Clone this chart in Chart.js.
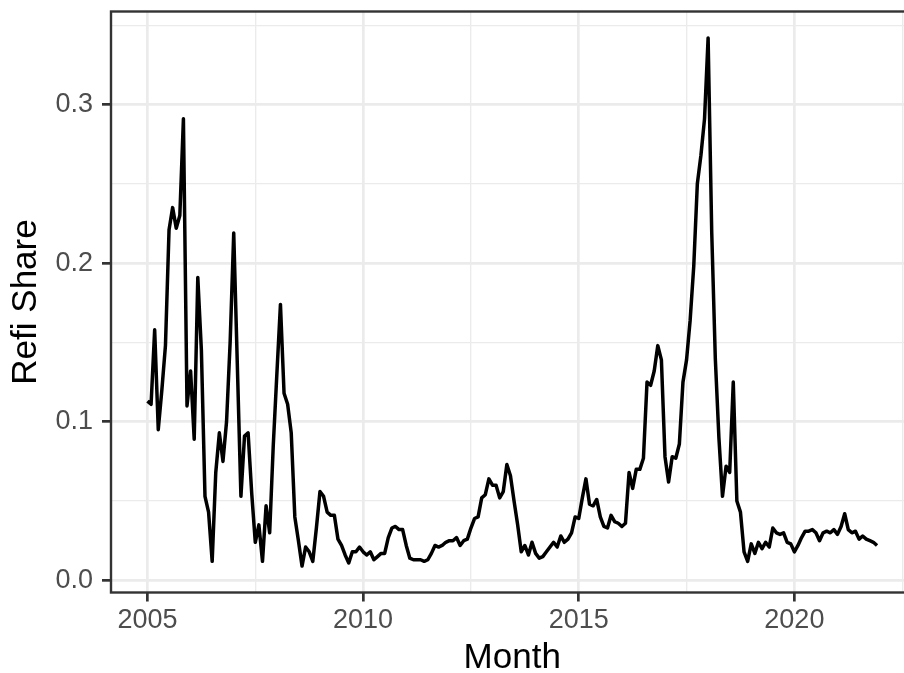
<!DOCTYPE html>
<html>
<head>
<meta charset="utf-8">
<script src="https://cdn.jsdelivr.net/npm/chart.js@4.4.1/dist/chart.umd.min.js"></script>
<style>
  html, body { margin: 0; padding: 0; overflow: hidden; background: #fff; }
  #wrap { width: 920px; height: 673px; }
</style>
</head>
<body>
<div id="wrap"><canvas id="refiChart" width="920" height="673"></canvas></div>
<script>
// monthly refi share, Jan 2005 .. Dec 2021
const startYear = 2005;
const refiShare = [
  0.113, 0.111, 0.158, 0.095, 0.120, 0.148, 0.221, 0.235, 0.222, 0.230, 0.291, 0.110,
  0.132, 0.089, 0.191, 0.145, 0.053, 0.043, 0.012, 0.068, 0.093, 0.075, 0.100, 0.150,
  0.219, 0.136, 0.053, 0.091, 0.093, 0.055, 0.024, 0.035, 0.012, 0.047, 0.030, 0.085,
  0.130, 0.174, 0.118, 0.111, 0.093, 0.040, 0.025, 0.009, 0.021, 0.018, 0.012, 0.033,
  0.056, 0.053, 0.043, 0.041, 0.041, 0.026, 0.022, 0.016, 0.011, 0.018, 0.018, 0.021,
  0.018, 0.016, 0.018, 0.013, 0.015, 0.017, 0.017, 0.027, 0.033, 0.034, 0.032, 0.032,
  0.022, 0.014, 0.013, 0.013, 0.013, 0.012, 0.013, 0.017, 0.022, 0.021, 0.022, 0.024,
  0.025, 0.025, 0.027, 0.022, 0.025, 0.026, 0.033, 0.039, 0.040, 0.052, 0.054, 0.064,
  0.060, 0.060, 0.052, 0.056, 0.073, 0.066, 0.050, 0.035, 0.018, 0.022, 0.016, 0.024,
  0.017, 0.014, 0.015, 0.018, 0.021, 0.024, 0.021, 0.028, 0.024, 0.026, 0.030, 0.040,
  0.039, 0.052, 0.064, 0.048, 0.047, 0.051, 0.040, 0.034, 0.033, 0.041, 0.037, 0.036,
  0.034, 0.036, 0.068, 0.058, 0.070, 0.070, 0.077, 0.125, 0.123, 0.132, 0.148, 0.139,
  0.078, 0.062, 0.078, 0.077, 0.086, 0.125, 0.139, 0.164, 0.198, 0.250, 0.268, 0.291,
  0.342, 0.220, 0.140, 0.090, 0.053, 0.072, 0.068, 0.125, 0.050, 0.043, 0.018, 0.012,
  0.023, 0.017, 0.024, 0.020, 0.024, 0.021, 0.033, 0.030, 0.029, 0.030, 0.024, 0.023,
  0.018, 0.022, 0.027, 0.031, 0.031, 0.032, 0.030, 0.025, 0.030, 0.031, 0.030, 0.032,
  0.029, 0.034, 0.042, 0.032, 0.030, 0.031, 0.026, 0.028, 0.026, 0.025, 0.024, 0.022
];

const xMajor = [2005, 2010, 2015, 2020];
const xMinor = [2007.5, 2012.5, 2017.5, 2022.5];
const xTickLabels = ["2005", "2010", "2015", "2020"];
const yMajor = [0, 0.1, 0.2, 0.3];
const yMinor = [0.05, 0.15, 0.25, 0.35];
const yTickLabels = ["0.0", "0.1", "0.2", "0.3"];

const months = [];
for (let i = 0; i < refiShare.length; i++) months.push(startYear + i / 12);
const points = months.map((m, i) => ({ x: m, y: refiShare[i] }));

// ggplot style 5% expansion
const xLo = months[0], xHi = months[months.length - 1];
const yLo = Math.min(...refiShare), yHi = Math.max(...refiShare);
const xPad = (xHi - xLo) * 0.05, yPad = (yHi - yLo) * 0.05;

const FONT = "'Liberation Sans', Arial, Helvetica, sans-serif";
const GRID = "#EBEBEB";
const DARK = "#333333";

function isIn(list, v) {
  return list.some(t => Math.abs(t - v) < 1e-9);
}

function gridFor(major) {
  return {
    drawOnChartArea: true,
    drawTicks: true,
    tickLength: 9,
    color: GRID,
    lineWidth: ctx => (ctx.tick && isIn(major, ctx.tick.value)) ? 2.7 : 1.35,
    tickColor: ctx => (ctx.tick && isIn(major, ctx.tick.value)) ? DARK : "rgba(0,0,0,0)",
    tickWidth: 2.7
  };
}

const panelBorder = {
  id: "panelBorder",
  afterDraw(chart) {
    const a = chart.chartArea;
    const c = chart.ctx;
    c.save();
    c.strokeStyle = DARK;
    c.lineWidth = 2.4;
    c.strokeRect(a.left, a.top, a.right - a.left, a.bottom - a.top);
    c.restore();
  }
};

new Chart(document.getElementById("refiChart"), {
  type: "line",
  data: {
    datasets: [
      {
        data: points,
        borderColor: "#000000",
        borderWidth: 3.5,
        borderJoinStyle: "round",
        pointRadius: 0,
        tension: 0,
        fill: false
      }
    ]
  },
  options: {
    responsive: false,
    animation: false,
    devicePixelRatio: 1,
    layout: { padding: { top: 11.5, right: 6.5, left: 0, bottom: 0 } },
    plugins: { legend: { display: false }, tooltip: { enabled: false } },
    scales: {
      x: {
        type: "linear",
        min: xLo - xPad,
        max: xHi + xPad,
        afterBuildTicks: axis => {
          axis.ticks = xMajor.concat(xMinor).sort((a, b) => a - b).map(v => ({ value: v }));
        },
        afterFit: axis => {
          axis.height = 80.5;
          axis.paddingLeft = 0;
          axis.paddingRight = 0;
        },
        border: { display: false },
        grid: gridFor(xMajor),
        ticks: {
          autoSkip: false,
          maxRotation: 0,
          padding: 3,
          color: "#4D4D4D",
          font: { family: FONT, size: 27 },
          callback: v => {
            const k = xMajor.findIndex(t => Math.abs(t - v) < 1e-9);
            return k >= 0 ? xTickLabels[k] : "";
          }
        },
        title: {
          display: true,
          text: "Month",
          color: "#000000",
          font: { family: FONT, size: 35, lineHeight: 0.86 },
          padding: 0
        }
      },
      y: {
        type: "linear",
        min: yLo - yPad,
        max: yHi + yPad,
        afterBuildTicks: axis => {
          axis.ticks = yMajor.concat(yMinor).sort((a, b) => a - b).map(v => ({ value: v }));
        },
        afterFit: axis => {
          axis.width = 111;
          axis.paddingTop = 0;
          axis.paddingBottom = 0;
        },
        border: { display: false },
        grid: gridFor(yMajor),
        ticks: {
          autoSkip: false,
          padding: 9,
          color: "#4D4D4D",
          font: { family: FONT, size: 27 },
          callback: v => {
            const k = yMajor.findIndex(t => Math.abs(t - v) < 1e-9);
            return k >= 0 ? yTickLabels[k] : "";
          }
        },
        title: {
          display: true,
          text: "Refi Share",
          color: "#000000",
          font: { family: FONT, size: 35, lineHeight: 0.86 },
          padding: { top: 11, bottom: 0 }
        }
      }
    }
  },
  plugins: [panelBorder]
});
</script>
</body>
</html>
